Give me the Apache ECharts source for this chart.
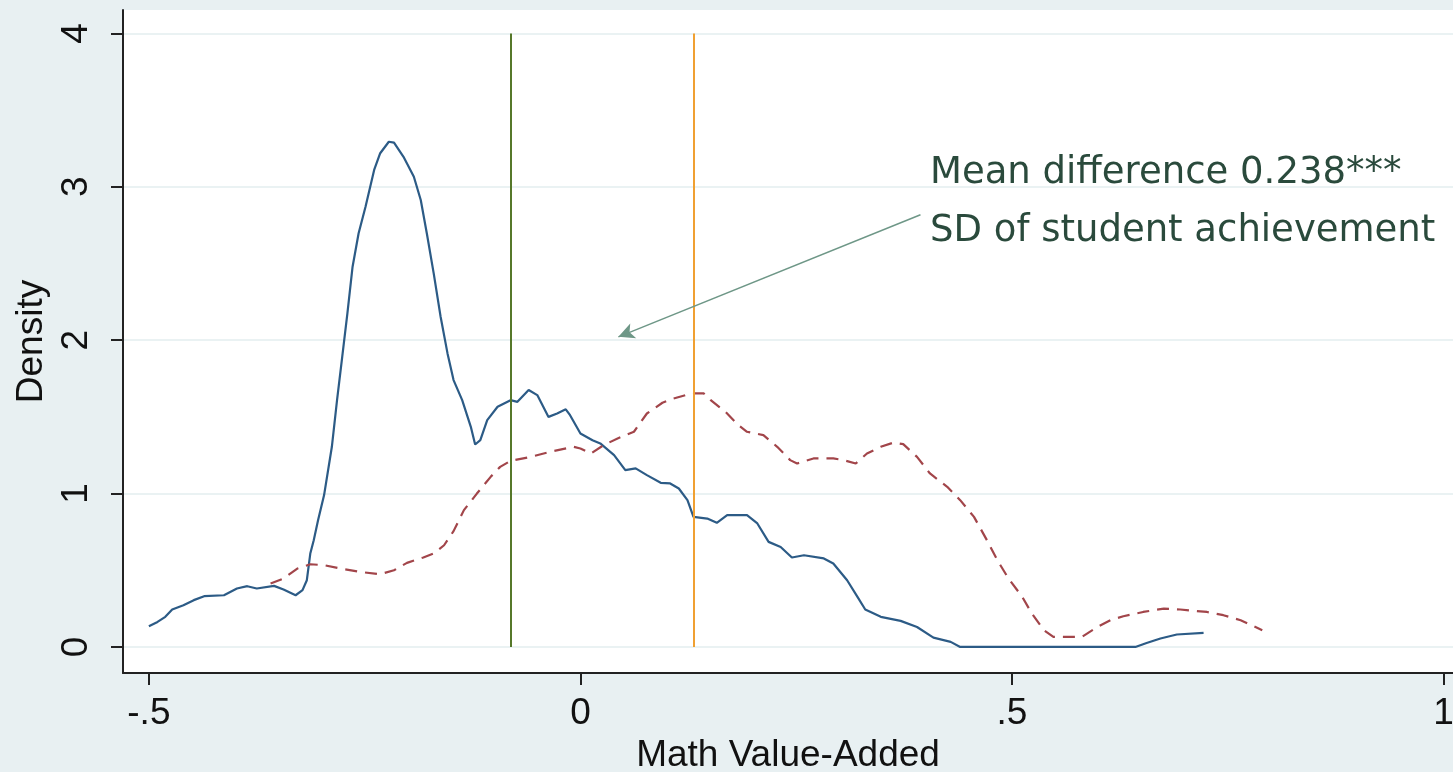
<!DOCTYPE html>
<html>
<head>
<meta charset="utf-8">
<title>Math Value-Added density</title>
<script src="https://cdn.jsdelivr.net/npm/echarts@6/dist/echarts.min.js"></script>
<style>
  html, body { margin: 0; padding: 0; background: #e8f0f2; }
  #chartDiv { width: 1453px; height: 772px; }
</style>
</head>
<body>
<div id="chartDiv"></div>
<script>
// blue solid density
var blueX = [-0.500, -0.490, -0.481, -0.473, -0.460, -0.448, -0.436, -0.413, -0.398, -0.386,
  -0.375, -0.355, -0.344, -0.330, -0.322, -0.317, -0.313, -0.309, -0.304, -0.297,
  -0.288, -0.282, -0.276, -0.270, -0.264, -0.257, -0.249, -0.239, -0.232, -0.222,
  -0.216, -0.205, -0.193, -0.185, -0.178, -0.170, -0.162, -0.154, -0.147, -0.137,
  -0.127, -0.122, -0.116, -0.108, -0.096, -0.081, -0.073, -0.060, -0.050, -0.037,
  -0.027, -0.017, -0.012, 0.000, 0.014, 0.023, 0.039, 0.052, 0.064, 0.077,
  0.093, 0.104, 0.114, 0.124, 0.131, 0.147, 0.158, 0.170, 0.193, 0.205,
  0.218, 0.232, 0.245, 0.259, 0.282, 0.293, 0.309, 0.321, 0.330, 0.348,
  0.371, 0.390, 0.409, 0.429, 0.440, 0.643, 0.656, 0.672, 0.691, 0.722];
var blueY = [0.135, 0.163, 0.196, 0.244, 0.272, 0.305, 0.331, 0.337, 0.381, 0.396,
  0.381, 0.398, 0.374, 0.337, 0.370, 0.435, 0.609, 0.696, 0.826, 0.990,
  1.305, 1.609, 1.892, 2.175, 2.479, 2.697, 2.870, 3.110, 3.219, 3.294,
  3.288, 3.196, 3.066, 2.914, 2.697, 2.436, 2.153, 1.914, 1.740, 1.609,
  1.435, 1.320, 1.348, 1.479, 1.566, 1.609, 1.598, 1.675, 1.642, 1.500,
  1.522, 1.549, 1.511, 1.392, 1.348, 1.327, 1.251, 1.153, 1.164, 1.120,
  1.070, 1.066, 1.033, 0.957, 0.848, 0.837, 0.809, 0.859, 0.859, 0.805,
  0.685, 0.652, 0.583, 0.598, 0.577, 0.544, 0.435, 0.326, 0.244, 0.196,
  0.170, 0.130, 0.061, 0.033, 0.000, 0.000, 0.026, 0.055, 0.081, 0.091];

// red dashed density
var redX = [-0.359, -0.344, -0.328, -0.313, -0.297, -0.278, -0.255, -0.232, -0.216, -0.201,
  -0.182, -0.170, -0.158, -0.147, -0.135, -0.120, -0.104, -0.093, -0.081, -0.058,
  -0.035, -0.008, 0.000, 0.012, 0.027, 0.043, 0.062, 0.077, 0.095, 0.108,
  0.129, 0.143, 0.151, 0.168, 0.183, 0.193, 0.212, 0.228, 0.243, 0.251,
  0.270, 0.293, 0.305, 0.319, 0.332, 0.348, 0.363, 0.374, 0.390, 0.405,
  0.425, 0.440, 0.456, 0.471, 0.483, 0.496, 0.512, 0.523, 0.537, 0.548,
  0.581, 0.599, 0.614, 0.629, 0.652, 0.676, 0.695, 0.726, 0.745, 0.765, 0.790];
var redY = [0.413, 0.446, 0.511, 0.539, 0.533, 0.511, 0.489, 0.474, 0.500, 0.548,
  0.583, 0.609, 0.663, 0.755, 0.892, 1.000, 1.109, 1.174, 1.213, 1.239,
  1.272, 1.305, 1.294, 1.261, 1.316, 1.359, 1.403, 1.522, 1.592, 1.620,
  1.653, 1.653, 1.609, 1.533, 1.446, 1.403, 1.381, 1.305, 1.218, 1.196,
  1.229, 1.229, 1.218, 1.196, 1.261, 1.305, 1.333, 1.322, 1.239, 1.131,
  1.044, 0.957, 0.848, 0.696, 0.566, 0.446, 0.326, 0.218, 0.109, 0.065,
  0.065, 0.130, 0.174, 0.200, 0.228, 0.250, 0.244, 0.228, 0.207, 0.174, 0.109];

// group means and arrow endpoints
var meanLow = -0.081;
var meanHigh = 0.131;
var arrowFrom = [0.394, 2.818];
var arrowTo = [0.044, 2.022];

var xTicks = [-0.5, 0, 0.5, 1];
var xTickText = ['-.5', '0', '.5', '1'];
var yTicks = [0, 1, 2, 3, 4];
var noteLines = ['Mean difference 0.238***', 'SD of student achievement'];

function zip(xs, ys) {
  var out = [];
  for (var i = 0; i < xs.length; i++) out.push([xs[i], ys[i]]);
  return out;
}

var myChart = echarts.init(document.getElementById('chartDiv'));
var axisFont = { fontFamily: 'Liberation Sans', fontSize: 37, color: '#111' };

var option = {
  backgroundColor: '#e8f0f2',
  animation: false,
  grid: { left: 123, right: 0, top: 10, bottom: 99, outerBoundsMode: 'none', containLabel: false,
    show: true, backgroundColor: '#fff', borderWidth: 0 },
  xAxis: {
    type: 'value', min: -0.53, max: 1.011,
    name: 'Math Value-Added', nameLocation: 'middle', nameGap: 62,
    nameTextStyle: axisFont,
    axisLine: { show: true, onZero: false, lineStyle: { color: '#222', width: 2 } },
    axisTick: { show: true, length: 12, customValues: xTicks, lineStyle: { color: '#222', width: 2 } },
    axisLabel: Object.assign({ customValues: xTicks, margin: 22,
      formatter: function (v) { return xTickText[xTicks.indexOf(v)]; } }, axisFont),
    splitLine: { show: false }
  },
  yAxis: {
    type: 'value', min: -0.17, max: 4.153,
    name: 'Density', nameLocation: 'middle', nameGap: 70, nameRotate: 90,
    nameTextStyle: axisFont,
    axisLine: { show: true, onZero: false, lineStyle: { color: '#222', width: 2 } },
    axisTick: { show: true, length: 12, customValues: yTicks, lineStyle: { color: '#222', width: 2 } },
    axisLabel: Object.assign({ customValues: yTicks, margin: 28, rotate: 90 }, axisFont),
    splitLine: { show: true, lineStyle: { color: '#eaf2f3', width: 2 } }
  },
  series: [
    {
      name: 'solid', type: 'line', data: zip(blueX, blueY), showSymbol: false,
      lineStyle: { color: '#2c5b86', width: 2.2 }, z: 3,
      markLine: {
        silent: true, symbol: ['none', 'none'], label: { show: false },
        data: [
          [{ coord: [meanLow, 0], lineStyle: { color: '#56782a', width: 2, type: 'solid' } }, { coord: [meanLow, 4] }],
          [{ coord: [meanHigh, 0], lineStyle: { color: '#f0a032', width: 2, type: 'solid' } }, { coord: [meanHigh, 4] }]
        ]
      }
    },
    {
      name: 'dashed', type: 'line', data: zip(redX, redY), showSymbol: false,
      lineStyle: { color: '#a2454a', width: 2.2, type: [12, 8] }, z: 3,
      markLine: {
        silent: true, symbol: ['none', 'arrow'], symbolSize: [12, 16], label: { show: false },
        lineStyle: { color: '#6e9787', width: 1.5, type: 'solid' },
        data: [[{ coord: arrowFrom }, { coord: arrowTo }]]
      }
    }
  ],
  graphic: [
    { type: 'text', left: 930, top: 155, style: { text: noteLines[0], fontFamily: 'DejaVu Sans', fontSize: 37, fill: '#2a4a3c' } },
    { type: 'text', left: 930, top: 213, style: { text: noteLines[1], fontFamily: 'DejaVu Sans', fontSize: 37, fill: '#2a4a3c' } }
  ]
};
myChart.setOption(option);
</script>
</body>
</html>
